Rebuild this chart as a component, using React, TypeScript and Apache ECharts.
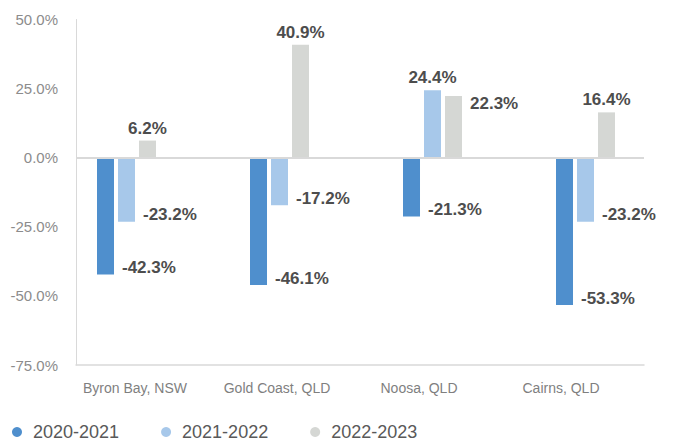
import React, { useEffect, useRef } from "react";
import * as echarts from "echarts";

const categories = ["Byron Bay, NSW", "Gold Coast, QLD", "Noosa, QLD", "Cairns, QLD"];
const seriesNames = ["2020-2021", "2021-2022", "2022-2023"];
const values2021 = [-42.3, -46.1, -21.3, -53.3];
const values2122 = [-23.2, -17.2, 24.4, -23.2];
const values2223 = [6.2, 40.9, 22.3, 16.4];
const yTicks = { min: -75, max: 50, interval: 25 };
// labels placed beside the bar top instead of above it: [seriesIndex, categoryIndex]
const sideLabels = [[2, 2]];

const colors = ["#4f8fcd", "#a7c8ea", "#d5d7d4"];
const FONT = "'Liberation Sans', Arial, sans-serif";

function fmt(v: number) {
  return v.toFixed(1) + "%";
}

function makeData(values: number[], si: number) {
  return values.map((v, ci) => {
    const side = sideLabels.some((p) => p[0] === si && p[1] === ci);
    let label: any;
    if (v < 0) {
      label = { position: ["100%", "100%"], offset: [8, -7], align: "left", verticalAlign: "middle" };
    } else if (side) {
      label = { position: ["100%", 0], offset: [8, 7], align: "left", verticalAlign: "middle" };
    } else {
      label = { position: "top", distance: 4 };
    }
    return { value: v, label };
  });
}

export default function App() {
  const ref = useRef<HTMLDivElement>(null);
  useEffect(() => {
    if (!ref.current) return;
    const chart = echarts.init(ref.current, null, { renderer: "svg" });
    const allValues = [values2021, values2122, values2223];
    const barSeries = seriesNames.map((name, si) => ({
      name,
      type: "bar",
      xAxisIndex: 1,
      yAxisIndex: 1,
      barWidth: 17,
      barGap: "23.5%",
      itemStyle: { color: colors[si] },
      label: {
        show: true,
        formatter: (p: any) => fmt(p.value),
        fontFamily: FONT,
        fontSize: 17,
        fontWeight: "bold",
        color: "#4d4d4d",
      },
      data: makeData(allValues[si], si),
    }));
    chart.setOption({
      animation: false,
      color: colors,
      textStyle: { fontFamily: FONT },
      grid: [
        { left: 76, right: 29, top: 19.5, bottom: 76 },
        { left: 50, width: 612, top: 19.5, bottom: 76 },
      ],
      legend: {
        data: seriesNames,
        left: 12,
        top: 422,
        padding: 0,
        icon: "circle",
        itemWidth: 22,
        itemHeight: 10,
        itemGap: 42,
        textStyle: { fontFamily: FONT, fontSize: 18, color: "#595959", lineHeight: 20 },
      },
      xAxis: [
        {
          type: "category",
          gridIndex: 0,
          data: categories,
          axisLine: { onZero: false, lineStyle: { color: "#d9d9d9", width: 1.5 } },
          axisTick: { show: false },
          axisLabel: {
            color: "#7f7f7f",
            fontSize: 14,
            fontFamily: FONT,
            margin: 16,
            padding: [0, 24, 0, 0],
          },
        },
        {
          type: "category",
          gridIndex: 1,
          data: categories,
          show: false,
        },
      ],
      yAxis: [
        {
          type: "value",
          gridIndex: 0,
          min: yTicks.min,
          max: yTicks.max,
          interval: yTicks.interval,
          axisLine: { show: true, lineStyle: { color: "#d9d9d9", width: 1 } },
          axisTick: { show: false },
          splitLine: { show: false },
          axisLabel: {
            formatter: (v: number) => fmt(v),
            color: "#8c8c8c",
            fontSize: 15,
            fontFamily: FONT,
            margin: 18,
          },
        },
        {
          type: "value",
          gridIndex: 1,
          min: yTicks.min,
          max: yTicks.max,
          interval: yTicks.interval,
          show: false,
          splitLine: { show: false },
        },
      ],
      series: [
        ...barSeries,
        {
          name: "zero",
          type: "line",
          xAxisIndex: 0,
          yAxisIndex: 0,
          data: [],
          silent: true,
          markLine: {
            symbol: "none",
            silent: true,
            label: { show: false },
            lineStyle: { color: "#d9d9d9", width: 2, type: "solid" },
            data: [{ yAxis: 0 }],
          },
        },
      ],
    });
    return () => chart.dispose();
  }, []);
  return (
    <div
      ref={ref}
      style={{ position: "fixed", left: 0, top: 0, width: 673, height: 441, background: "#fff" }}
    />
  );
}
